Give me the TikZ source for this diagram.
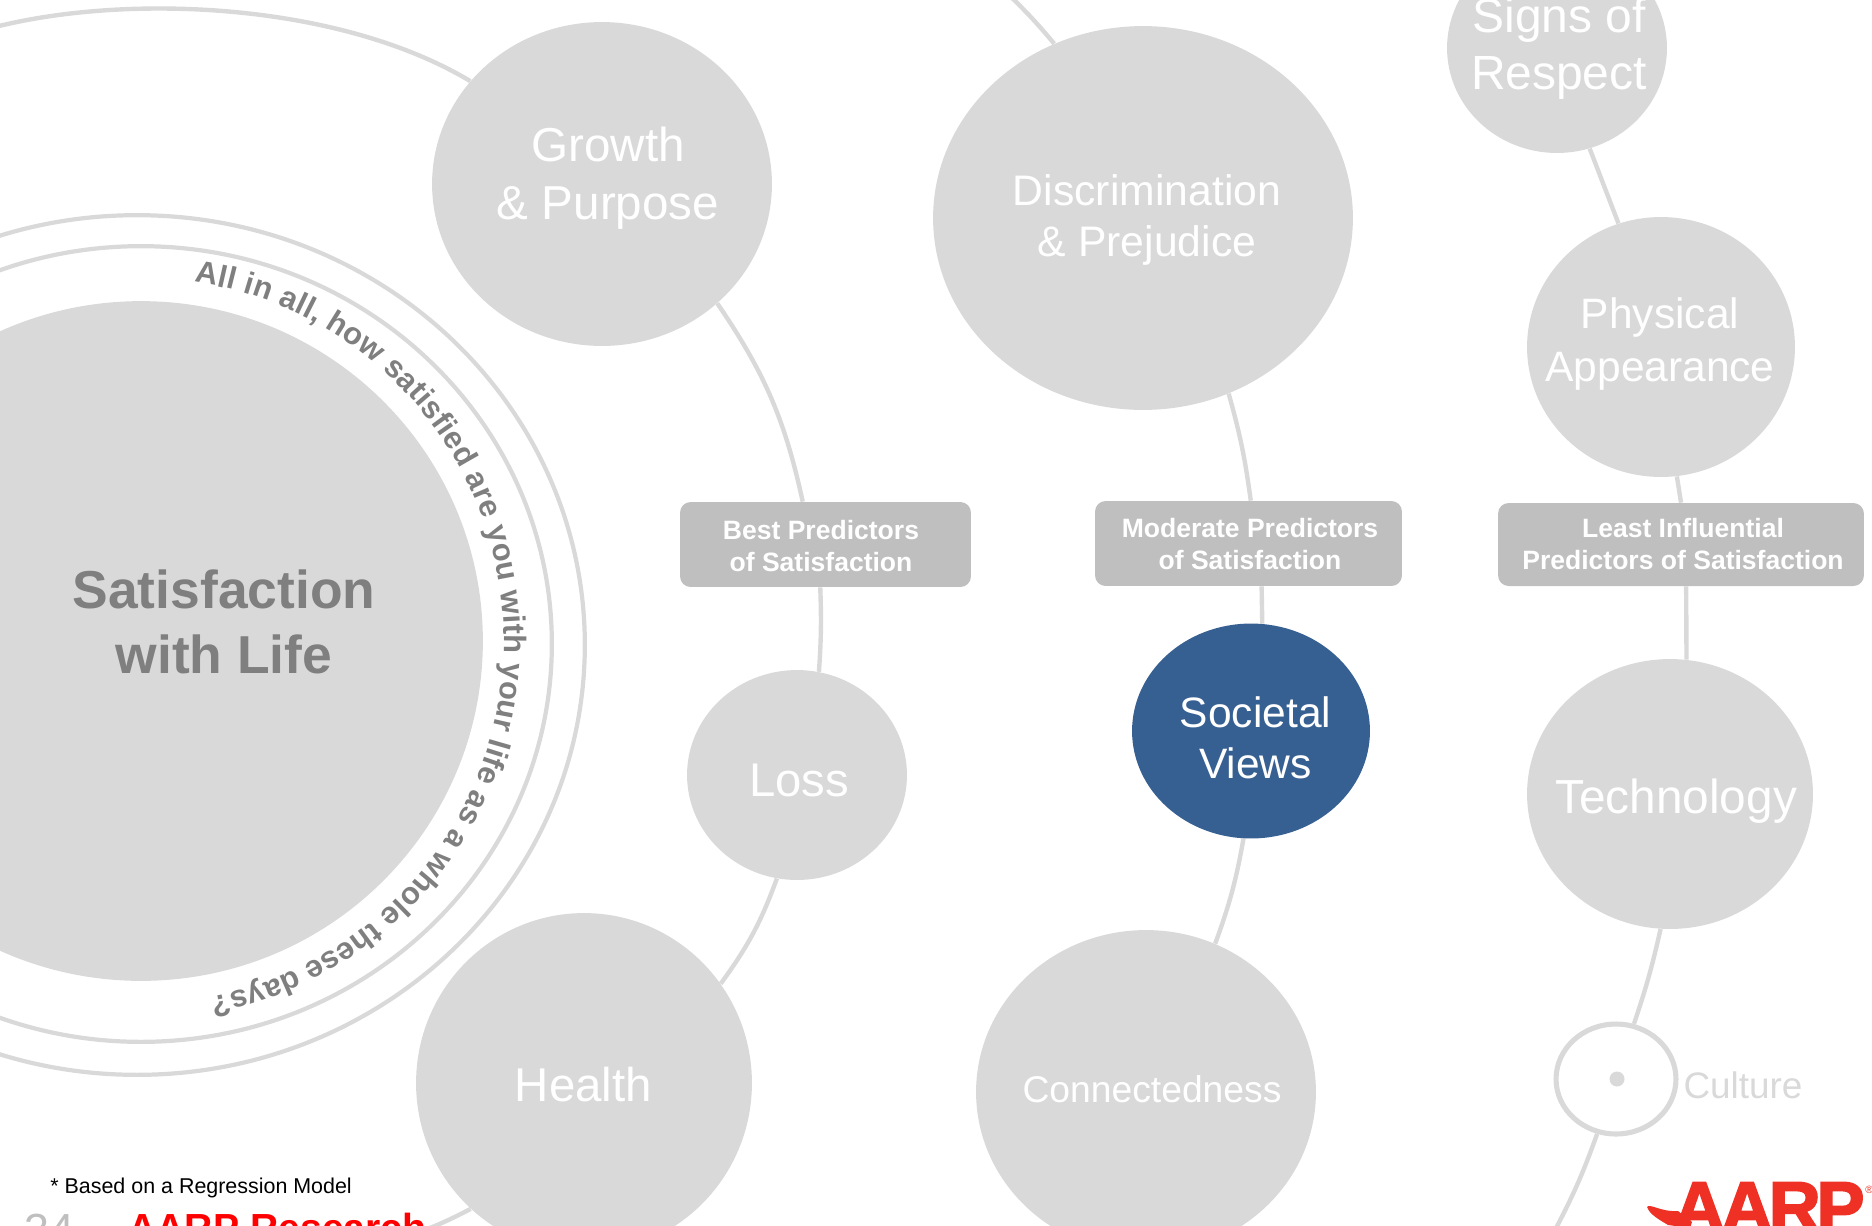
\documentclass[tikz,border=0pt]{standalone}
\usepackage{fontspec}
\setmainfont{Liberation Sans}
\newfontfamily\logofont[BoldFeatures={FakeBold=2.5},LetterSpace=-6]{Liberation Sans}
\usetikzlibrary{shapes.geometric,decorations.text,backgrounds}
\definecolor{blobgray}{HTML}{D9D9D9}
\definecolor{boxgray}{HTML}{BFBFBF}
\definecolor{inkgray}{HTML}{7F7F7F}
\definecolor{socblue}{HTML}{376092}
\definecolor{logored}{HTML}{EE3124}
\newcommand{\fs}[2]{\fontsize{#1}{#2}\selectfont}
\tikzset{
  blob/.style n args={3}{ellipse,fill=#3,minimum width=#1*0.04cm,minimum height=#2*0.04cm,inner sep=0pt},
  ring/.style 2 args={ellipse,draw=blobgray,line width=2.4pt,fill=none,minimum width=#1*0.04cm,minimum height=#2*0.04cm,inner sep=0pt},
  tagbox/.style 2 args={rectangle,rounded corners=6pt,fill=boxgray,minimum width=#1*0.04cm,minimum height=#2*0.04cm,inner sep=0pt},
  tagtext/.style={inner sep=0pt,align=center,text=white,font=\bfseries\fs{15.1}{18.4}},
  link/.style={draw=blobgray,line width=2.5pt},
  label/.style={inner sep=0pt,align=center}
}
\begin{document}
\begin{tikzpicture}[x=0.02cm,y=-0.02cm]
\useasboundingbox (0,0) rectangle (1872,1225);
\clip (0,0) rectangle (1872,1225);
% rings and centre
\node[ring={448}{430}] (ringout) at (137,645) {};
\node[ring={411}{398}] (ringin) at (141,644) {};
\node[blob={342}{340}{blobgray}] (core) at (141,641) {};
\node[label,text=inkgray,font=\bfseries\fs{30.4}{36.6}] (coretext) at (224,622) {Satisfaction\\with Life};
\coordinate (arcc) at (141,641);
\path[decorate,decoration={text along path,text align={fit to path},
  text={|\bfseries\fs{17.6}{20}\color{inkgray}|All in all, how satisfied are you with your life as a whole these days?}}]
  (arcc) ++(-81.5:363) arc[start angle=-81.5,end angle=79,radius=363];
% circles
\node[blob={170}{162}{blobgray}] (growth) at (602,184) {};
\node[label,text=white,font=\fs{27.1}{33}] (growtht) at (608,178.5) {Growth\\\& Purpose};
\node[blob={210}{192}{blobgray}] (disc) at (1143,218) {};
\node[label,text=white,font=\fs{24.3}{29}] (disct) at (1147,219.5) {Discrimination\\\& Prejudice};
\node[blob={110}{105}{blobgray}] (signs) at (1557,48) {};
\node[label,text=white,font=\fs{27.3}{32}] (signst) at (1559,48.5) {Signs of\\Respect};
\node[blob={134}{130}{blobgray}] (phys) at (1661,347) {};
\node[label,text=white,font=\fs{24.2}{30}] (physt) at (1660,344) {Physical\\Appearance};
\node[blob={110}{105}{blobgray}] (loss) at (797,775) {};
\node[label,text=white,font=\fs{26.9}{32}] (losst) at (799,780) {Loss};
\node[blob={119}{107.5}{socblue}] (soc) at (1251,731) {};
\node[label,text=white,font=\fs{24.2}{29}] (soct) at (1255.5,738) {Societal\\Views};
\node[blob={143}{135}{blobgray}] (tech) at (1670,794) {};
\node[label,text=white,font=\fs{27.2}{32}] (techt) at (1676,801) {Technology};
\node[blob={168}{170}{blobgray}] (health) at (584,1083) {};
\node[label,text=white,font=\fs{27}{32}] (healtht) at (583.5,1085) {Health};
\node[blob={170}{162}{blobgray}] (conn) at (1146,1092) {};
\node[label,text=white,font=\fs{21.2}{26}] (connt) at (1152,1089) {Connectedness};
% culture
\node[ring={60}{55},line width=2.9pt,fill=white] (cult) at (1616,1079) {};
\node[circle,fill=blobgray,minimum size=0.3cm,inner sep=0pt] (cultdot) at (1617,1079) {};
\node[label,text=blobgray,font=\fs{21}{25}] (cultt) at (1743,1085) {Culture};
% tag boxes
\node[tagbox={145.5}{42.5}] (best) at (825.5,544.5) {};
\node[tagtext] (bestt) at (821,546) {Best Predictors\\of Satisfaction};
\node[tagbox={153.5}{42.5}] (mod) at (1248.5,543.5) {};
\node[tagtext] (modt) at (1250,544) {Moderate Predictors\\of Satisfaction};
\node[tagbox={183}{41.5}] (least) at (1681,544.5) {};
\node[tagtext] (leastt) at (1683,544) {Least Influential\\Predictors of Satisfaction};
% free ends
\coordinate (topleft) at (-5,27);
\coordinate (healthend) at (420,1232);
\coordinate (disctop) at (1009,-5);
\coordinate (cultend) at (1554,1232);
% connectors
\begin{scope}[on background layer]
\draw[link] (topleft) .. controls (130,-7) and (340,3) .. (growth.142.6);
\draw[link] (growth.-46.5) to[bend left=11] (best.118);
\draw[link] (best.-97) to[bend left=3] (loss.78);
\draw[link] (loss.-101) to[bend left=8] (health.36);
\draw[link] (health.-132) to[bend left=3] (healthend);
\draw[link] (disctop) to[bend left=3] (disc.117.5);
\draw[link] (disc.-64.2) to[bend left=4] (mod.87);
\draw[link] (mod.-73.6) -- (soc.84);
\draw[link] (soc.-94) to[bend left=5] (conn.65);
\draw[link] (signs.-72) -- (phys.109);
\draw[link] (phys.-83) -- (least.90);
\draw[link] (least.-83) -- (tech.83);
\draw[link] (tech.-94) to[bend left=3] (cult.72);
\draw[link] (cult.-109) to[bend left=4] (cultend);
\end{scope}
% footer
\node[anchor=base west,inner sep=0pt,font=\fs{12.2}{14}] (foot) at (50,1193) {* Based on a Regression Model};
\node[anchor=base west,inner sep=0pt,text=boxgray,font=\fs{25.6}{30}] (pagenum) at (24,1245) {34};
\node[anchor=base west,inner sep=0pt,text=red,font=\bfseries\fs{22.3}{26}] (brand) at (128,1241) {AARP Research};
% logo
\fill[logored] (1647,1207) .. controls (1650,1203) and (1660,1212) .. (1678,1211) -- (1692,1222) -- (1690,1228) -- (1668,1225) .. controls (1660,1220) and (1650,1215) .. (1647,1207) -- cycle;
\node[anchor=base west,inner sep=0pt,text=logored,font=\logofont\bfseries\fs{41}{46}] (logo) at (1673,1232) {AARP};
\node[anchor=base west,inner sep=0pt,text=logored,font=\fs{6}{7}] (logoreg) at (1865,1193) {®};
\end{tikzpicture}
\end{document}
